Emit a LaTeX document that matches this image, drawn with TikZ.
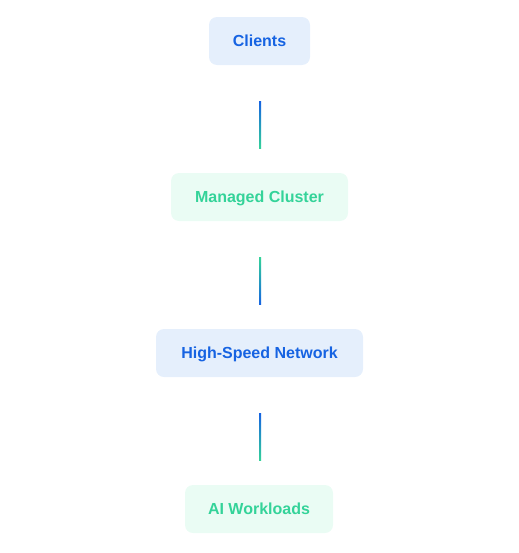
\documentclass[tikz,border=0pt]{standalone}
\usepackage{fontspec}
\setmainfont{Liberation Sans}
\usetikzlibrary{calc}
\definecolor{bluetext}{RGB}{22,99,226}
\definecolor{bluefill}{RGB}{229,239,252}
\definecolor{greentext}{RGB}{52,211,153}
\definecolor{greenfill}{RGB}{234,252,244}
\begin{document}
\begin{tikzpicture}[x=0.75pt,y=-0.75pt,
  box/.style={rounded corners=6pt, minimum height=36pt, inner sep=0pt,
    text height=8.6pt, text depth=0pt,
    font=\bfseries\fontsize{12}{14}\selectfont},
  bluebox/.style={box, fill=bluefill, text=bluetext},
  greenbox/.style={box, fill=greenfill, text=greentext}]
  \useasboundingbox (0,0) rectangle (518,553);
  % vrstvy shora dolu
  \node[bluebox, minimum width=75.75pt] (clients) at (259.5,41) {Clients};
  \node[greenbox, minimum width=132.75pt] (cluster) at (259.5,197) {Managed Cluster};
  \node[bluebox, minimum width=155.25pt] (network) at (259.5,353) {High-Speed Network};
  \node[greenbox, minimum width=111pt] (workloads) at (259,509) {AI Workloads};
  % spojnice s prechodem barev
  \shade[top color=bluetext, bottom color=greentext]
    ($(clients.south)+(-0.5,36)$) rectangle ($(cluster.north)+(1.5,-24)$);
  \shade[top color=greentext, bottom color=bluetext]
    ($(cluster.south)+(-0.5,36)$) rectangle ($(network.north)+(1.5,-24)$);
  \shade[top color=bluetext, bottom color=greentext]
    ($(network.south)+(-0.5,36)$) rectangle ($(workloads.north)+(2,-24)$);
\end{tikzpicture}
\end{document}
